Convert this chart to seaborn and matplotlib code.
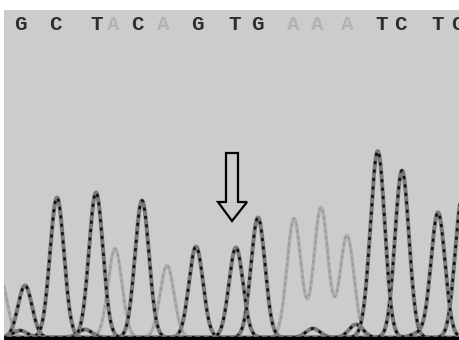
import numpy as np
import pandas as pd
import matplotlib
matplotlib.use("Agg")
import matplotlib.pyplot as plt
import seaborn as sns
from matplotlib.patches import Polygon

# ---- data (x position, peak height above baseline) ----
bases = ["G", "C", "T", "A", "C", "A", "G", "T", "G", "A", "A", "A", "T", "C", "T", "C"]
base_x = [20, 55, 97, 113, 137, 163, 197, 235, 257, 293, 317, 347, 382, 400, 438, 457]

g_pos = [25, 85, 196, 258, 313]
g_height = [52, 8, 91, 120, 9]
c_pos = [20, 57, 142, 356, 402, 462]
c_height = [7, 140, 137, 13, 167, 139]
t_pos = [96, 236, 370, 378, 418, 438]
t_height = [145, 90, 12, 180, 4, 125]
a_pos = [0, 115, 167, 294, 321, 347]
a_height = [60, 89, 72, 119, 130, 102]

SIGMA = 7.0

sns.set_style("white")
fig = plt.figure(figsize=(4.6, 3.4), dpi=100, facecolor="white")
ax = fig.add_axes([4 / 460, 0, 456 / 460, 330 / 340])
ax.set_facecolor("#cccccc")

xs = np.linspace(-20, 480, 2500)


def trace(pos, hts):
    y = np.zeros_like(xs)
    for p, h in zip(pos, hts):
        y += h * np.exp(-((xs - p) ** 2) / (2 * SIGMA ** 2))
    return y


frames = []
for name, pos, hts in [("A", a_pos, a_height), ("G", g_pos, g_height),
                       ("C", c_pos, c_height), ("T", t_pos, t_height)]:
    frames.append(pd.DataFrame({"x": xs, "y": trace(pos, hts), "base": name}))
df = pd.concat(frames, ignore_index=True)

# light (A) trace
sub = df[df.base == "A"]
sns.lineplot(data=sub, x="x", y="y", ax=ax, color="#adadad", lw=2.4, sort=False)
sns.lineplot(data=sub, x="x", y="y", ax=ax, color="#979797", lw=1.2,
             sort=False).lines[-1].set_dashes((1.5, 2.5))

# dark traces
for b in ["G", "C", "T"]:
    sub = df[df.base == b]
    sns.lineplot(data=sub, x="x", y="y", ax=ax, color="#7a7a7a", lw=2.9, sort=False)
    ln = sns.lineplot(data=sub, x="x", y="y", ax=ax, color="#111111", lw=1.9,
                      sort=False).lines[-1]
    ln.set_dashes((1.2, 2.0))

ax.axhline(0, color="black", lw=2.4)

# base calls along the top
for b, x in zip(bases, base_x):
    ax.text(x, 312.5, b, ha="center", va="center", fontsize=15,
            fontweight="bold", family=["Liberation Mono", "DejaVu Sans Mono"],
            color="#b3b3b3" if b == "A" else "#2e2e2e", clip_on=True)

# hollow down arrow
B = 337.5
arrow = Polygon([(226, B - 153), (238, B - 153), (238, B - 202), (247, B - 202),
                 (232, B - 221), (218, B - 202), (226, B - 202)],
                closed=True, facecolor="none", edgecolor="black", lw=1.6)
ax.add_patch(arrow)

ax.set_xlim(4, 460)
ax.set_ylim(-2.5, 327.5)
ax.set_xlabel("")
ax.set_ylabel("")
ax.set_xticks([])
ax.set_yticks([])
for s in ax.spines.values():
    s.set_visible(False)
if ax.get_legend():
    ax.get_legend().remove()

fig.savefig("out.png", dpi=100, facecolor="white")
